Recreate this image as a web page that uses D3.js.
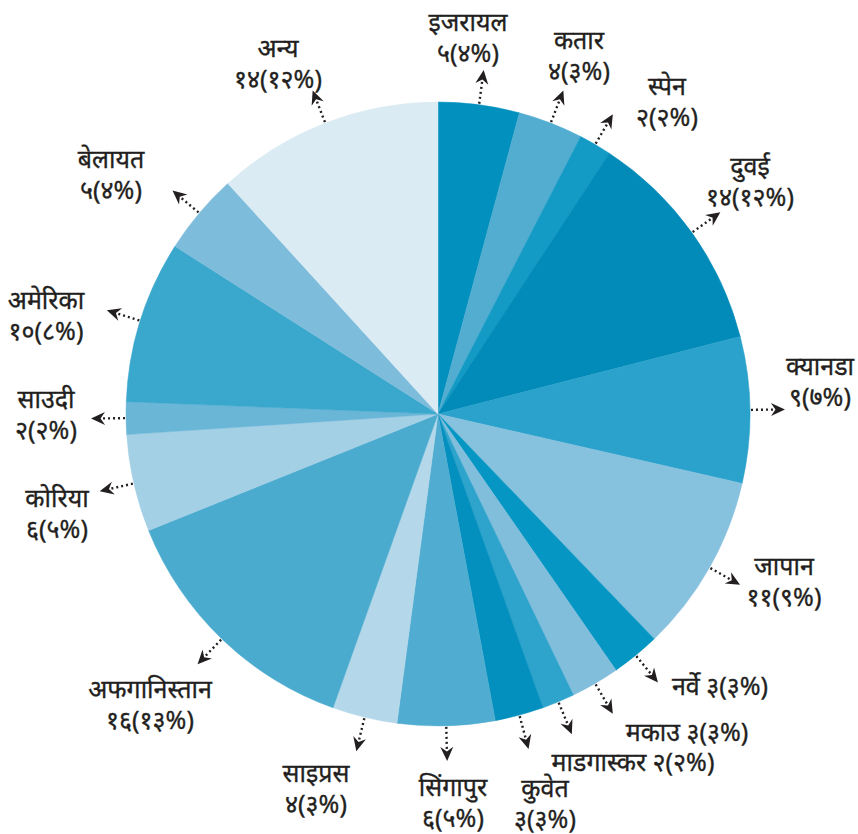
<!DOCTYPE html>
<html>
<head>
<meta charset="utf-8">
<script src="https://cdn.jsdelivr.net/npm/d3@7"></script>
<style>
  html, body { margin: 0; padding: 0; background: #fff; }
  svg { display: block; }
  text { font-family: "Noto Sans", "Noto Sans Devanagari", sans-serif; fill: #231f20; stroke: #231f20; stroke-width: 0.35px; }
</style>
</head>
<body>
<svg id="chart" width="858" height="834"></svg>
<script>
// ---- data ----
const countries = ["इजरायल","कतार","स्पेन","दुवई","क्यानडा","जापान","नर्वे","मकाउ","माडगास्कर","कुवेत","सिंगापुर","साइप्रस","अफगानिस्तान","कोरिया","साउदी","अमेरिका","बेलायत","अन्य"];
const counts = [5,4,2,14,9,11,3,3,2,3,6,4,16,6,2,10,5,14];
const countLabels = ["५","४","२","१४","९","११","३","३","२","३","६","४","१६","६","२","१०","५","१४"];
const percentLabels = ["४%","३%","२%","१२%","७%","९%","३%","३%","२%","३%","५%","३%","१३%","५%","२%","८%","४%","१२%"];

// ---- style / layout ----
const colors = ["#0290be","#52add0","#139ac5","#028bb9","#2aa2cb","#86c1de","#0596c3","#80bedc","#2ea3cc","#0390be","#50acd0","#b4d8ea","#4aabce","#a4d0e6","#6ab6d7","#3aa7cd","#7ebcdb","#daebf4"];
// label text-block anchor: [centerX, firstBaselineY, singleLine]
const labelLayout = [
  [468,31,false],[579,49,false],[667,95,false],[750,175,false],[820,375,false],[784,575,false],
  [720,695,true],[687,741,true],[633,771,true],[545,797,false],[453,796,false],[316,782,false],
  [150,698,false],[57,507,false],[46,408,false],[46,309,false],[111,168,false],[278,57,false]
];

const W = 858, H = 834, cx = 438, cy = 414, R = 312;
const svg = d3.select("#chart");
const g = svg.append("g").attr("transform", `translate(${cx},${cy})`);

const pie = d3.pie().sort(null).value(d => d);
const arcs = pie(counts);
const arc = d3.arc().innerRadius(0).outerRadius(R);

g.selectAll("path.slice").data(arcs).enter().append("path")
  .attr("class","slice")
  .attr("d", arc)
  .attr("fill", (d,i) => colors[i])
  .attr("stroke", (d,i) => colors[i])
  .attr("stroke-width", 0.5);

// arrows
const r0 = R + 1, rLineEnd = R + 24, rTip = R + 35;
const pt = (a, r) => [Math.sin(a) * r, -Math.cos(a) * r];
arcs.forEach((d, i) => {
  const a = (d.startAngle + d.endAngle) / 2;
  const p0 = pt(a, r0), p1 = pt(a, rLineEnd);
  g.append("line")
    .attr("x1", p0[0]).attr("y1", p0[1]).attr("x2", p1[0]).attr("y2", p1[1])
    .attr("stroke", "#231f20").attr("stroke-width", 2.4)
    .attr("stroke-dasharray", "2,3");
  // stealth arrowhead
  const tip = pt(a, rTip);
  const ux = Math.sin(a), uy = -Math.cos(a);
  const nx = -uy, ny = ux;
  const L = 14, Wd = 6.5, notch = 4.5;
  const bx = tip[0] - ux * L, by = tip[1] - uy * L;
  const mx = tip[0] - ux * (L - notch), my = tip[1] - uy * (L - notch);
  g.append("path")
    .attr("d", `M${tip[0]},${tip[1]} L${bx + nx*Wd},${by + ny*Wd} L${mx},${my} L${bx - nx*Wd},${by - ny*Wd} Z`)
    .attr("fill", "#231f20");
});

// labels
const fs = 25;
countries.forEach((name, i) => {
  const [x, y, single] = labelLayout[i];
  const val = `${countLabels[i]}(${percentLabels[i]})`;
  if (single) {
    svg.append("text").attr("x", x).attr("y", y).attr("text-anchor","middle")
      .attr("font-size", fs).text(`${name} ${val}`);
  } else {
    const t = svg.append("text").attr("x", x).attr("y", y).attr("text-anchor","middle").attr("font-size", fs);
    t.append("tspan").attr("x", x).attr("dy", 0).text(name);
    t.append("tspan").attr("x", x).attr("dy", 31).text(val);
  }
});
</script>
</body>
</html>
